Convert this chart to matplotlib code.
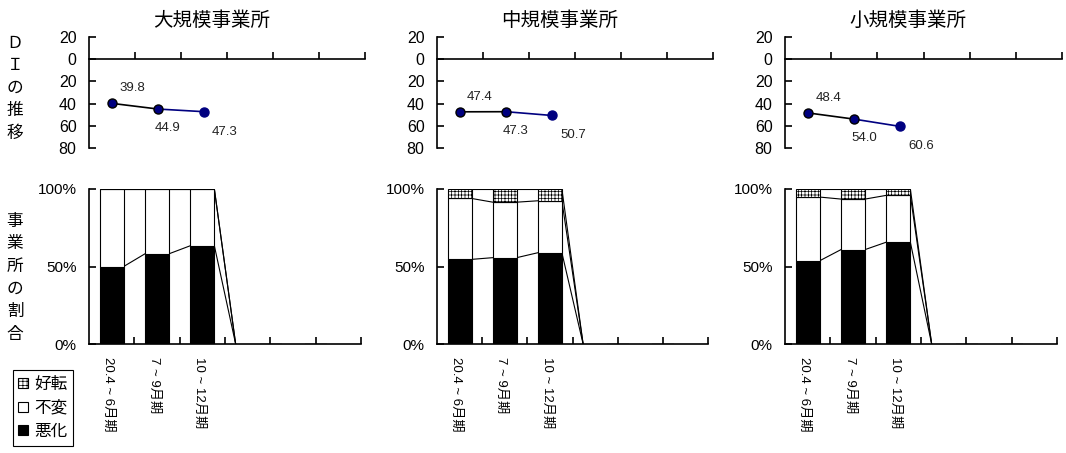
import matplotlib
matplotlib.use('Agg')
import numpy as np
import matplotlib.pyplot as plt
from matplotlib.patches import Patch

plt.rcParams['font.family'] = ['Liberation Sans', 'Noto Sans CJK JP']
plt.rcParams['hatch.linewidth'] = 0.5
plt.rcParams['axes.unicode_minus'] = False

# --- data ---
offices = ['大規模事業所', '中規模事業所', '小規模事業所']
periods = ['20.4 ~ 6月期', '7 ~ 9月期', '10 ~ 12月期']
n_slots = 6  # quarters on the axis; only the first three are filled so far

di_large = [39.8, 44.9, 47.3]
di_medium = [47.4, 47.3, 50.7]
di_small = [48.4, 54.0, 60.6]

# shares of offices (%): 悪化 / 不変 / 好転
worse_large = [50.0, 58.2, 63.4]
same_large = [50.0, 41.8, 36.6]
better_large = [0.0, 0.0, 0.0]

worse_medium = [54.6, 55.7, 58.9]
same_medium = [39.3, 35.8, 33.5]
better_medium = [6.1, 8.5, 7.6]

worse_small = [53.7, 60.9, 65.7]
same_small = [41.1, 32.6, 30.2]
better_small = [5.2, 6.5, 4.1]

di_all = [di_large, di_medium, di_small]
worse_all = [worse_large, worse_medium, worse_small]
same_all = [same_large, same_medium, same_small]
better_all = [better_large, better_medium, better_small]

W, H = 1066, 453
fig = plt.figure(figsize=(W / 100, H / 100), dpi=100)


def px_axes(x0, y0, x1, y1):
    return fig.add_axes([x0 / W, 1 - y1 / H, (x1 - x0) / W, (y1 - y0) / H])


top_boxes = [(89, 37, 365, 148), (437, 37, 713, 148), (785, 37, 1062, 148)]
bot_boxes = [(89, 189, 361, 344), (437, 189, 708, 344), (785, 189, 1057, 344)]

BAR_W = 0.53
NAVY = '#000080'
num_kw = dict(family='Liberation Sans')
lab_offsets = [(20, 15), (10, -19), (21, -20)]

for k in range(3):
    # ---- DI line chart ----
    ax = px_axes(*top_boxes[k])
    ax.set_xlim(-0.5, n_slots - 0.5)
    ax.set_ylim(80, -20)
    for s in ['top', 'right']:
        ax.spines[s].set_visible(False)
    ax.spines['bottom'].set_position(('data', 0))
    ax.spines['left'].set_linewidth(1.2)
    ax.spines['bottom'].set_linewidth(1.2)
    ax.set_yticks([-20, 0, 20, 40, 60, 80])
    ax.set_yticklabels([str(abs(v)) for v in [-20, 0, 20, 40, 60, 80]], fontsize=11.5)
    ax.set_xticks(np.arange(n_slots) + 0.5)
    ax.set_xticklabels([])
    ax.tick_params(axis='y', direction='in', length=5, width=1.2, pad=9)
    ax.tick_params(axis='x', direction='in', length=5, width=1.2)

    di = di_all[k]
    x = np.arange(len(di))
    ax.plot(x[:2], di[:2], color='black', lw=1.2, zorder=2)
    ax.plot(x[1:3], di[1:3], color=NAVY, lw=1.2, zorder=2)
    for i, v in enumerate(di):
        ec = 'black' if i < 2 else NAVY
        ax.plot(x[i], v, marker='o', ms=6.5, mfc=NAVY, mec=ec, mew=1, zorder=3)
        dx, dy = lab_offsets[i]
        ax.annotate(f'{v:.1f}', (x[i], v), xytext=(dx, dy), textcoords='offset pixels',
                    ha='center', va='center', fontsize=9.5, color='#222222', **num_kw)

    ax.text(0.445, 1 + 17 / 111, offices[k], transform=ax.transAxes,
            ha='center', va='center', fontsize=14, family='Noto Sans CJK JP')

    # ---- 100% stacked bars ----
    bx = px_axes(*bot_boxes[k])
    bx.set_xlim(-0.5, n_slots - 0.5)
    bx.set_ylim(0, 100)
    for s in ['top', 'right']:
        bx.spines[s].set_visible(False)
    bx.spines['left'].set_linewidth(1.2)
    bx.spines['bottom'].set_linewidth(1.2)
    bx.set_yticks([0, 50, 100])
    bx.set_yticklabels(['0%', '50%', '100%'], fontsize=11)
    bx.set_xticks(np.arange(n_slots) + 0.5)
    bx.set_xticklabels([])
    bx.tick_params(axis='y', direction='in', length=5, width=1.2, pad=9)
    bx.tick_params(axis='x', direction='in', length=5, width=1.2)

    worse = np.array(worse_all[k])
    same = np.array(same_all[k])
    better = np.array(better_all[k])
    xb = np.arange(len(worse))
    bx.bar(xb, worse, BAR_W, color='black', edgecolor='black', lw=0.8, zorder=2)
    bx.bar(xb, same, BAR_W, bottom=worse, color='white', edgecolor='black', lw=0.8, zorder=2)
    bx.bar(xb, better, BAR_W, bottom=worse + same, color='white', edgecolor='black',
           hatch='+++++', lw=0.8, zorder=2)

    # series lines between neighbouring bars; empty quarters sit at 0
    pad = np.zeros(n_slots - len(worse))
    for level in [worse, worse + same, worse + same + better]:
        lv = np.concatenate([level, pad])
        for i in range(n_slots - 1):
            bx.plot([i + BAR_W / 2, i + 1 - BAR_W / 2], [lv[i], lv[i + 1]],
                    color='black', lw=0.8, zorder=1)

    for i, lab in enumerate(periods):
        bx.text(xb[i] - 0.07, -8.5, lab, rotation=-90,
                ha='center', va='top', fontsize=9.5, clip_on=False)

# vertical side captions
for j, ch in enumerate('ＤＩの推移'):
    fig.text(15 / W, 1 - (43 + j * 22.5) / H, ch, ha='center', va='center',
             fontsize=12, family='Noto Sans CJK JP')
for j, ch in enumerate('事業所の割合'):
    fig.text(15 / W, 1 - (221 + j * 22.6) / H, ch, ha='center', va='center',
             fontsize=12, family='Noto Sans CJK JP')

handles = [Patch(facecolor='white', edgecolor='black', hatch='++++', lw=0.8),
           Patch(facecolor='white', edgecolor='black', lw=0.8),
           Patch(facecolor='black', edgecolor='black', lw=0.8)]
leg = fig.legend(handles, ['好転', '不変', '悪化'], loc='upper left',
                 bbox_to_anchor=(12.5 / W, 1 - 370 / H),
                 prop={'family': 'Noto Sans CJK JP', 'size': 12},
                 handlelength=0.55, handleheight=0.55, handletextpad=0.4,
                 labelspacing=0.4, borderpad=0.35, borderaxespad=0,
                 fancybox=False, framealpha=1, edgecolor='black')
leg.get_frame().set_linewidth(0.8)

fig.savefig('out.png', dpi=100)
